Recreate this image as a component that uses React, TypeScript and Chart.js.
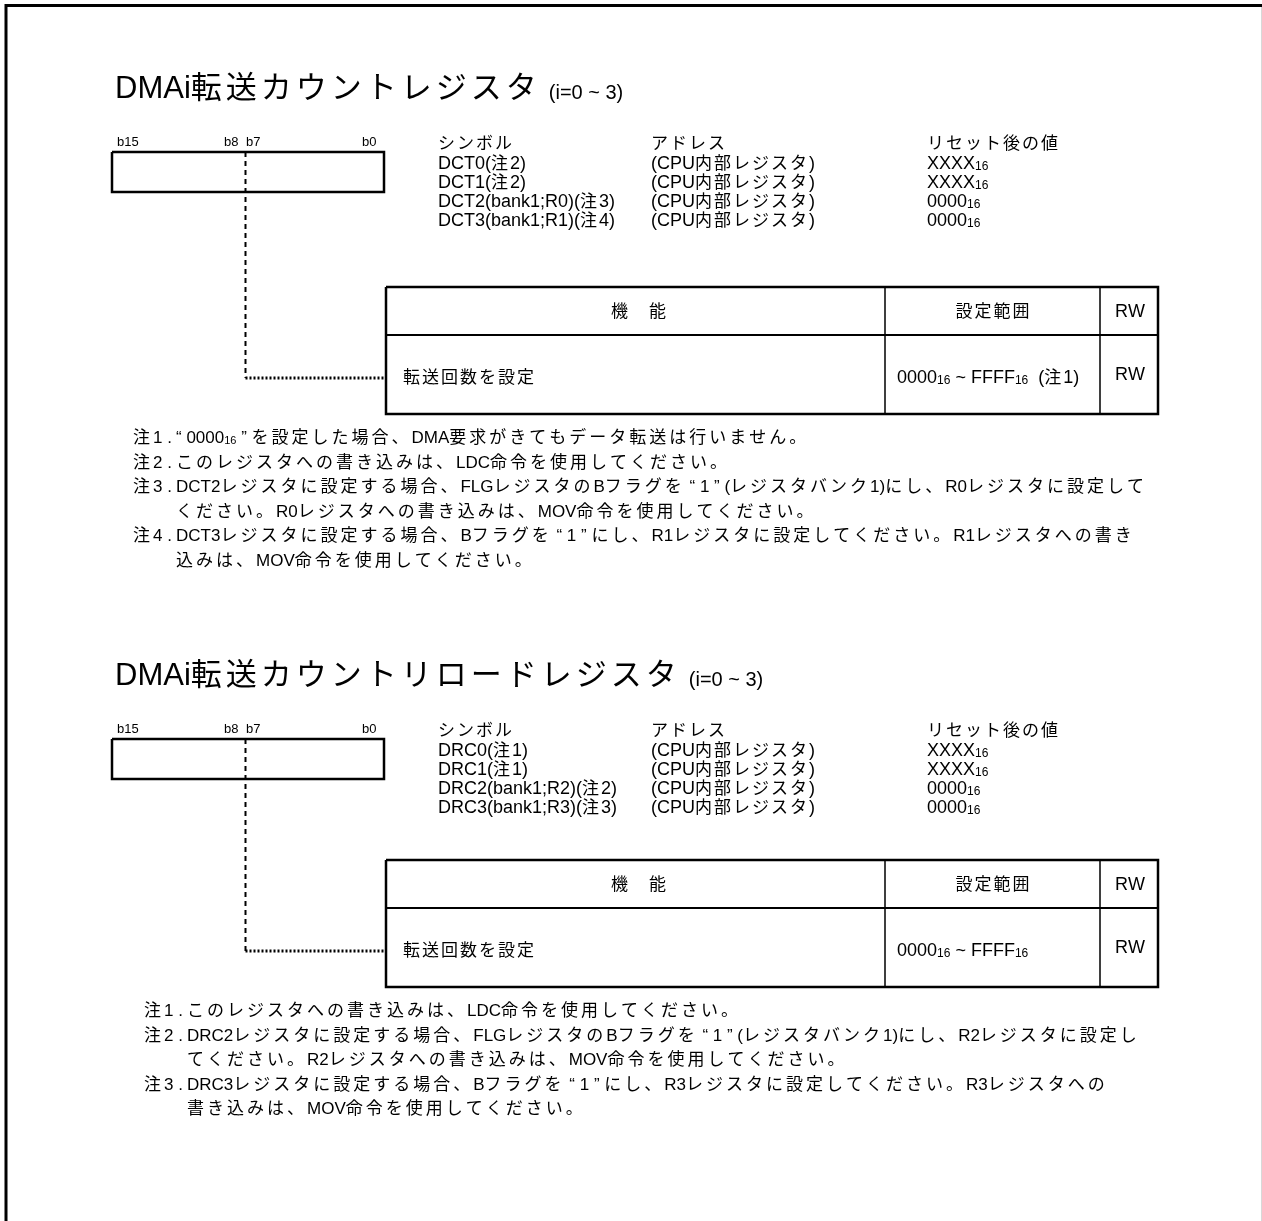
import { useEffect, useRef } from "react";
import { Chart, registerables } from "chart.js";
Chart.register(...registerables);

const W = 1262;
const H = 1221;

// ---- content (text data) ----
const registerTitles = ["DMAi転送カウントレジスタ", "DMAi転送カウントリロードレジスタ"];
const titleSuffix = "(i=0 ~ 3)";
const bitLabels = ["b15", "b8", "b7", "b0"];
const columnHeads = ["シンボル", "アドレス", "リセット後の値"];
const symbols1 = ["DCT0(注2)", "DCT1(注2)", "DCT2(bank1;R0)(注3)", "DCT3(bank1;R1)(注4)"];
const symbols2 = ["DRC0(注1)", "DRC1(注1)", "DRC2(bank1;R2)(注2)", "DRC3(bank1;R3)(注3)"];
const addresses = ["(CPU内部レジスタ)", "(CPU内部レジスタ)", "(CPU内部レジスタ)", "(CPU内部レジスタ)"];
const resetValues = ["XXXX{16}", "XXXX{16}", "0000{16}", "0000{16}"];
const tableHeads = ["機　能", "設定範囲", "RW"];
const functionText = "転送回数を設定";
const ranges = ["0000{16} ~ FFFF{16}  (注1)", "0000{16} ~ FFFF{16}"];
const accessText = "RW";
const notes1 = [
  ["“ 0000{16} ” を設定した場合、DMA要求がきてもデータ転送は行いません。"],
  ["このレジスタへの書き込みは、LDC命令を使用してください。"],
  [
    "DCT2レジスタに設定する場合、FLGレジスタのBフラグを “ 1 ” (レジスタバンク1)にし、R0レジスタに設定して",
    "ください。R0レジスタへの書き込みは、MOV命令を使用してください。",
  ],
  [
    "DCT3レジスタに設定する場合、Bフラグを “ 1 ” にし、R1レジスタに設定してください。R1レジスタへの書き",
    "込みは、MOV命令を使用してください。",
  ],
];
const notes2 = [
  ["このレジスタへの書き込みは、LDC命令を使用してください。"],
  [
    "DRC2レジスタに設定する場合、FLGレジスタのBフラグを “ 1 ” (レジスタバンク1)にし、R2レジスタに設定し",
    "てください。R2レジスタへの書き込みは、MOV命令を使用してください。",
  ],
  [
    "DRC3レジスタに設定する場合、Bフラグを “ 1 ” にし、R3レジスタに設定してください。R3レジスタへの",
    "書き込みは、MOV命令を使用してください。",
  ],
];
const sectionSymbols = [symbols1, symbols2];
const sectionNotes = [notes1, notes2];

// ---- layout ----
const SECTIONS = [
  { dy: 0, tdy: 0, noteX: 133 },
  { dy: 587, tdy: 573, noteX: 144 },
];
const BOX = { x0: 112, x1: 384, y0: 152, y1: 192, mid: 245.5 };
const TABLE = { x0: 386, x1: 1158, y0: 287, yh: 335, y1: 414, c1: 885, c2: 1100 };
const LEADER_Y = 378;
const ROW_X = [438, 651, 927];
const ROW_Y = [149, 169, 188, 207, 226];
const BIT_X = [117, 224, 246, 362];
const NOTE_Y0 = 443;
const NOTE_STEP = 24.6;
const NOTE_INDENT = 43;

type Style = { lat: number; cjk: number; gap: number; sub: number; subDy: number };
const LAT_FONT = '"Liberation Sans", Arial, sans-serif';
const CJK_FONT = '"Noto Sans CJK JP", "Noto Sans CJK SC", sans-serif';
const ST_TITLE: Style = { lat: 31, cjk: 31, gap: 4, sub: 20, subDy: 0 };
const ST_SUFFIX: Style = { lat: 20, cjk: 20, gap: 0, sub: 12, subDy: 0 };
const ST_BIT: Style = { lat: 13, cjk: 13, gap: 0, sub: 9, subDy: 0 };
const ST_ROW: Style = { lat: 18, cjk: 17, gap: 2, sub: 12, subDy: 1 };
const ST_TAB: Style = { lat: 18, cjk: 17, gap: 2, sub: 12, subDy: 1 };
const ST_NOTE: Style = { lat: 17, cjk: 17, gap: 3, sub: 11, subDy: 1 };

const isCJK = (c: string) => /[\u3000-\u30ff\u3400-\u9fff\uff00-\uffef]/.test(c);

type Tok = { t: string; kind: "lat" | "cjk" | "sub" };
function tokenize(text: string): Tok[] {
  const out: Tok[] = [];
  let i = 0;
  while (i < text.length) {
    const c = text[i];
    if (c === "{") {
      const j = text.indexOf("}", i);
      out.push({ t: text.slice(i + 1, j), kind: "sub" });
      i = j + 1;
      continue;
    }
    out.push({ t: c, kind: isCJK(c) ? "cjk" : "lat" });
    i++;
  }
  return out;
}

function tokWidth(ctx: CanvasRenderingContext2D, tk: Tok, st: Style) {
  if (tk.kind === "cjk") {
    ctx.font = `${st.cjk}px ${CJK_FONT}`;
    return ctx.measureText(tk.t).width + st.gap;
  }
  if (tk.kind === "sub") {
    ctx.font = `${st.sub}px ${LAT_FONT}`;
    return ctx.measureText(tk.t).width;
  }
  ctx.font = `${st.lat}px ${LAT_FONT}`;
  return ctx.measureText(tk.t).width;
}

function drawRich(
  ctx: CanvasRenderingContext2D,
  text: string,
  x: number,
  y: number,
  st: Style,
  align: "left" | "center" = "left"
) {
  const toks = tokenize(text);
  const widths = toks.map((tk) => tokWidth(ctx, tk, st));
  let total = widths.reduce((a, b) => a + b, 0);
  if (toks.length && toks[toks.length - 1].kind === "cjk") total -= st.gap;
  let cx = align === "center" ? x - total / 2 : x;
  ctx.textAlign = "left";
  ctx.textBaseline = "alphabetic";
  ctx.fillStyle = "#000";
  toks.forEach((tk, k) => {
    if (tk.kind === "cjk") {
      ctx.font = `${st.cjk}px ${CJK_FONT}`;
      ctx.fillText(tk.t, cx, y);
    } else if (tk.kind === "sub") {
      ctx.font = `${st.sub}px ${LAT_FONT}`;
      ctx.fillText(tk.t, cx, y + st.subDy);
    } else {
      ctx.font = `${st.lat}px ${LAT_FONT}`;
      ctx.fillText(tk.t, cx, y);
    }
    cx += widths[k];
  });
  return cx;
}

// ---- line geometry datasets (built from layout) ----
type Seg = { pts: [number, number][]; width: number; dash?: number[]; color?: string };
function buildSegments(): Seg[] {
  const segs: Seg[] = [];
  segs.push({ pts: [[6, H], [6, 5.5], [W, 5.5]], width: 3 });
  segs.push({ pts: [[W - 0.5, 6], [W - 0.5, H]], width: 1, color: "#d8d8d8" });
  SECTIONS.forEach(({ dy, tdy }) => {
    segs.push({
      pts: [
        [BOX.x0, BOX.y0 + dy],
        [BOX.x1, BOX.y0 + dy],
        [BOX.x1, BOX.y1 + dy],
        [BOX.x0, BOX.y1 + dy],
        [BOX.x0, BOX.y0 + dy],
      ],
      width: 2.5,
    });
    segs.push({ pts: [[BOX.mid, BOX.y0 + dy], [BOX.mid, LEADER_Y + tdy]], width: 2, dash: [5, 4] });
    segs.push({ pts: [[BOX.mid, LEADER_Y + tdy], [TABLE.x0, LEADER_Y + tdy]], width: 3, dash: [2, 2] });
    segs.push({
      pts: [
        [TABLE.x0, TABLE.y0 + tdy],
        [TABLE.x1, TABLE.y0 + tdy],
        [TABLE.x1, TABLE.y1 + tdy],
        [TABLE.x0, TABLE.y1 + tdy],
        [TABLE.x0, TABLE.y0 + tdy],
      ],
      width: 2.5,
    });
    segs.push({ pts: [[TABLE.x0, TABLE.yh + tdy], [TABLE.x1, TABLE.yh + tdy]], width: 2 });
    segs.push({ pts: [[TABLE.c1, TABLE.y0 + tdy], [TABLE.c1, TABLE.y1 + tdy]], width: 1.5 });
    segs.push({ pts: [[TABLE.c2, TABLE.y0 + tdy], [TABLE.c2, TABLE.y1 + tdy]], width: 1.5 });
  });
  return segs;
}

const textPlugin = {
  id: "registerText",
  afterDatasetsDraw(chart: any) {
    const ctx: CanvasRenderingContext2D = chart.ctx;
    const sx = (v: number) => chart.scales.x.getPixelForValue(v);
    const sy = (v: number) => chart.scales.y.getPixelForValue(v);
    ctx.save();
    SECTIONS.forEach(({ dy, tdy, noteX }, s) => {
      // title
      const end = drawRich(ctx, registerTitles[s], sx(115), sy(98 + dy), ST_TITLE);
      drawRich(ctx, titleSuffix, end + 8, sy(99 + dy), ST_SUFFIX);
      // bit labels
      bitLabels.forEach((b, i) => drawRich(ctx, b, sx(BIT_X[i]), sy(146 + dy), ST_BIT));
      // symbol/address/reset table
      columnHeads.forEach((h, i) => drawRich(ctx, h, sx(ROW_X[i]), sy(ROW_Y[0] + dy), ST_ROW));
      sectionSymbols[s].forEach((sym, r) => {
        drawRich(ctx, sym, sx(ROW_X[0]), sy(ROW_Y[r + 1] + dy), ST_ROW);
        drawRich(ctx, addresses[r], sx(ROW_X[1]), sy(ROW_Y[r + 1] + dy), ST_ROW);
        drawRich(ctx, resetValues[r], sx(ROW_X[2]), sy(ROW_Y[r + 1] + dy), ST_ROW);
      });
      // function table
      const hy = sy((TABLE.y0 + TABLE.yh) / 2 + 6 + tdy);
      drawRich(ctx, tableHeads[0], sx((TABLE.x0 + TABLE.c1) / 2 + 3), hy, ST_TAB, "center");
      drawRich(ctx, tableHeads[1], sx((TABLE.c1 + TABLE.c2) / 2), hy, ST_TAB, "center");
      drawRich(ctx, tableHeads[2], sx((TABLE.c2 + TABLE.x1) / 2 + 1), hy, ST_TAB, "center");
      const ry = sy(LEADER_Y + 5 + tdy);
      drawRich(ctx, functionText, sx(TABLE.x0 + 17), ry, ST_TAB);
      drawRich(ctx, ranges[s], sx(TABLE.c1 + 12), ry, ST_TAB);
      drawRich(ctx, accessText, sx((TABLE.c2 + TABLE.x1) / 2 + 1), ry - 3, ST_TAB, "center");
      // notes
      let line = 0;
      sectionNotes[s].forEach((note, n) => {
        note.forEach((txt, k) => {
          const y = sy(NOTE_Y0 + tdy + line * NOTE_STEP);
          if (k === 0) {
            drawRich(ctx, `注${n + 1} . `, sx(noteX), y, ST_NOTE);
          }
          drawRich(ctx, txt, sx(noteX + NOTE_INDENT), y, ST_NOTE);
          line++;
        });
      });
    });
    ctx.restore();
  },
};

export default function App() {
  const ref = useRef<HTMLCanvasElement | null>(null);
  useEffect(() => {
    if (!ref.current) return;
    const segs = buildSegments();
    const chart = new Chart(ref.current, {
      type: "scatter",
      data: {
        datasets: segs.map((sg) => ({
          data: sg.pts.map(([x, y]) => ({ x, y })),
          showLine: true,
          borderColor: sg.color || "#000",
          borderWidth: sg.width,
          borderDash: sg.dash || [],
          pointRadius: 0,
          pointHoverRadius: 0,
          fill: false,
          tension: 0,
          clip: false as any,
          borderCapStyle: "butt" as const,
          borderJoinStyle: "miter" as const,
        })),
      },
      options: {
        animation: false,
        responsive: false,
        events: [],
        layout: { padding: 0 },
        plugins: { legend: { display: false }, tooltip: { enabled: false } },
        scales: {
          x: { type: "linear", min: 0, max: W, display: false },
          y: { type: "linear", min: 0, max: H, reverse: true, display: false },
        },
      },
      plugins: [textPlugin],
    });
    return () => chart.destroy();
  }, []);
  return (
    <canvas
      ref={ref}
      width={W}
      height={H}
      style={{ position: "absolute", left: 0, top: 0, display: "block", background: "#fff" }}
    />
  );
}
